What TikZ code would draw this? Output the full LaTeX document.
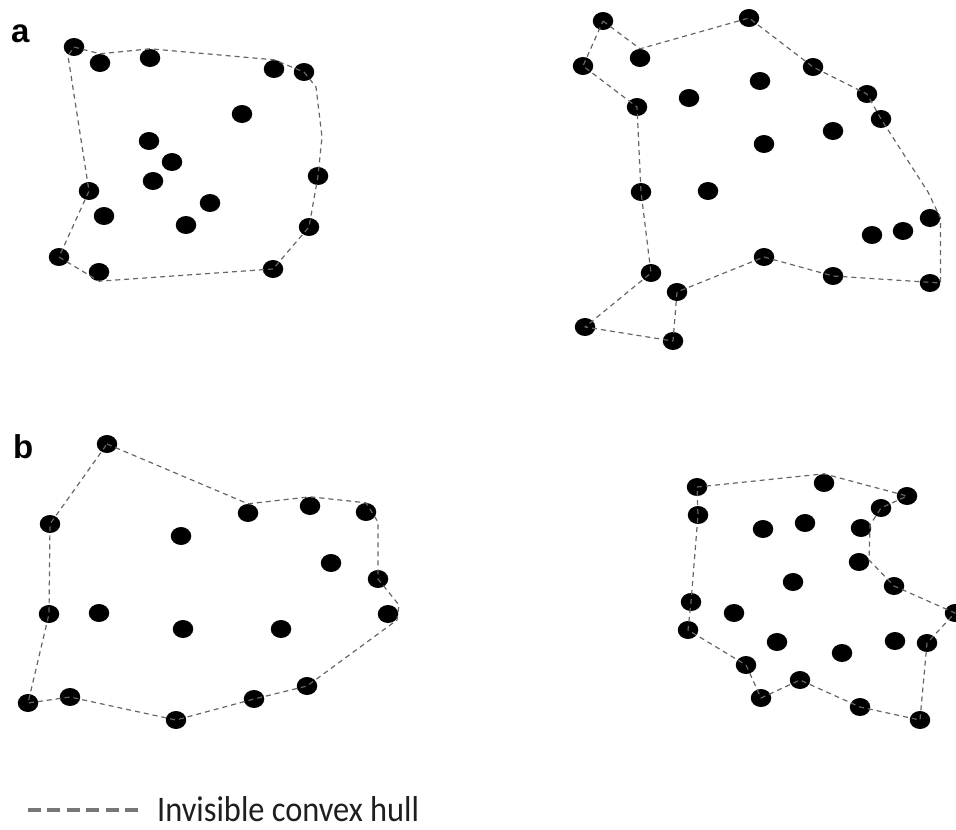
\documentclass[tikz,border=0pt]{standalone}
\usepackage{fontspec}
\setmainfont{Liberation Sans}
\newfontfamily\legendfont{Carlito}
\usetikzlibrary{shapes.geometric}
\definecolor{hullgray}{HTML}{666666}
\definecolor{leggray}{HTML}{777777}
\definecolor{legtext}{HTML}{1E1E1E}
\tikzset{
  dot/.style={ellipse, fill=black, draw=none, inner sep=0pt, minimum width=20.5pt, minimum height=18pt},
  hull/.style={draw=hullgray, line width=1.2pt, dash pattern=on 5pt off 4pt, line join=round},
  panellabel/.style={anchor=base west, inner sep=0pt, font=\fontsize{33}{36}\selectfont\bfseries},
}
\begin{document}
\begin{tikzpicture}[x=1pt,y=-1pt]
\useasboundingbox (0,0) rectangle (956,830);
% ---------- panel a, left ----------
\foreach \n/\x/\y in {1/74/47,2/100/63,3/150/58,4/274/69,5/304/72,6/242/114,7/149/141,8/172/162,9/153/181,10/318/176,11/89/191,12/210/203,13/104/216,14/186/225,15/309/227,16/59/257,17/99/272,18/273/269}
  \node[dot] (A\n) at (\x,\y) {};
\coordinate (ca1) at (316,87);
\coordinate (ca2) at (322,137);
\coordinate (ca3) at (68,56);
\draw[hull] (A1.center) -- (A2.north) -- (A3.north) -- (A4.north) -- (A5.center) -- (ca1) -- (ca2) -- (A10.center) -- (A15.center) -- (A18.center) -- (A17.south) -- (A16.center) -- (A11.center) -- (ca3) -- (A1.center);
% ---------- panel a, right ----------
\foreach \n/\x/\y in {1/603/21,2/749/18,3/640/58,4/583/66,5/813/67,6/760/81,7/867/94,8/689/98,9/637/107,10/881/119,11/833/131,12/764/144,13/641/192,14/708/191,15/930/218,16/903/231,17/872/235,18/764/257,19/651/273,20/833/276,21/930/283,22/677/292,23/585/327,24/673/341}
  \node[dot] (B\n) at (\x,\y) {};
\coordinate (cb1) at (928,192);
\draw[hull] (B1.center) -- (B3.north) -- (B2.center) -- (B5.center) -- (B7.center) -- (B10.center) -- (cb1) -- (B15.east) -- (B21.east) -- (B20.center) -- (B18.center) -- (B22.center) -- (B24.center) -- (B23.center) -- (B19.center) -- (B13.center) -- (B9.center) -- (B4.center) -- (B1.center);
% ---------- panel b, left ----------
\foreach \n/\x/\y in {1/107/444,2/50/524,3/248/513,4/310/506,5/366/512,6/181/536,7/331/563,8/378/579,9/49/614,10/99/613,11/183/629,12/281/629,13/388/614,14/307/686,15/254/699,16/70/697,17/28/703,18/176/720}
  \node[dot] (C\n) at (\x,\y) {};
\coordinate (cc1) at (378,522);
\coordinate (cc2) at (399,605);
\coordinate (cc3) at (397,620);
\draw[hull] (C1.center) -- (C3.north) -- (C4.north) -- (C5.north) -- (cc1) -- (C8.center) -- (cc2) -- (cc3) -- (C14.center) -- (C15.center) -- (C18.center) -- (C16.center) -- (C17.center) -- (C9.center) -- (C2.center) -- (C1.center);
% ---------- panel b, right ----------
\foreach \n/\x/\y in {1/697/487,2/824/483,3/907/496,4/881/508,5/698/515,6/763/529,7/805/523,8/861/528,9/859/562,10/793/582,11/894/586,12/691/602,13/955/613,14/734/613,15/688/630,16/777/642,17/895/641,18/927/643,19/842/653,20/746/665,21/800/680,22/761/698,23/860/707,24/920/720}
  \node[dot] (D\n) at (\x,\y) {};
\coordinate (cd1) at (870,525);
\coordinate (cd2) at (869,560);
\draw[hull] (D1.center) -- (D2.north) -- (D3.center) -- (D4.center) -- (cd1) -- (cd2) -- (D11.center) -- (D13.center) -- (D18.center) -- (D24.center) -- (D23.center) -- (D21.center) -- (D22.center) -- (D20.center) -- (D15.center) -- (D12.center) -- (D5.center) -- (D1.center);
% ---------- labels ----------
\node[panellabel] (la) at (11,42) {a};
\node[panellabel] (lb) at (13,458) {b};
% ---------- legend ----------
\coordinate (L1) at (28,810);
\coordinate (L2) at (140,810);
\draw[leggray, line width=4pt, dash pattern=on 13pt off 6.4pt] (L1) -- (L2);
\node[anchor=base west, inner sep=0pt, xscale=0.9, text=legtext, font=\legendfont\fontsize{36}{38}\selectfont] (leg) at (157,821) {Invisible convex hull};
\end{tikzpicture}
\end{document}
